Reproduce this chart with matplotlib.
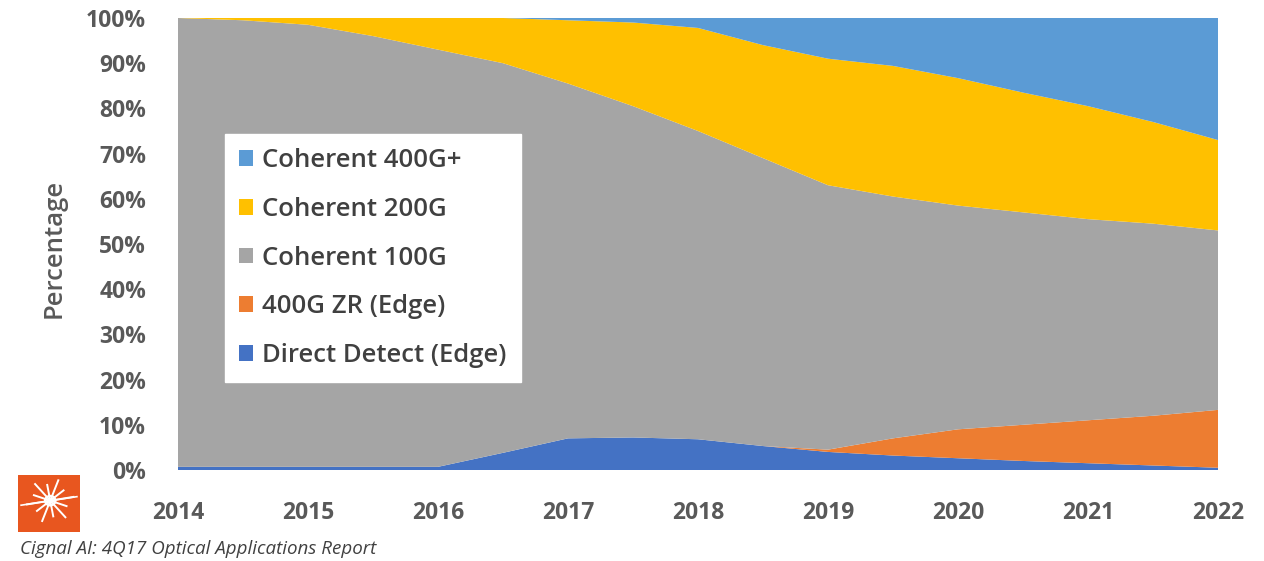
import matplotlib
matplotlib.use('Agg')
import numpy as np
from matplotlib import pyplot as plt
from matplotlib.patches import Rectangle, Circle

plt.rcParams['font.family'] = ['Open Sans', 'DejaVu Sans']

# half-year sample points, shares in percent
years = [2014, 2014.5, 2015, 2015.5, 2016, 2016.5, 2017, 2017.5, 2018,
         2018.5, 2019, 2019.5, 2020, 2020.5, 2021, 2021.5, 2022]
direct_detect = [0.7, 0.7, 0.7, 0.7, 0.7, 3.8, 7, 7.2, 6.8, 5.3, 4, 3.2, 2.6, 2, 1.5, 1, 0.5]
zr_400g = [0, 0, 0, 0, 0, 0, 0, 0, 0, 0, 0.5, 3.8, 6.4, 8, 9.5, 11, 12.8]
coh_100g = [99.3, 98.8, 97.8, 95.3, 92.3, 86.2, 78.5, 73.3, 68.2, 63.7, 58.5, 53.5, 49.5, 47, 44.5, 42.5, 39.7]
coh_200g = [0, 0.5, 1.5, 4, 7, 10, 14, 18.5, 22.8, 25, 28, 28.9, 28.2, 26.5, 25, 22.5, 20]
coh_400g = [0, 0, 0, 0, 0, 0, 0.5, 1, 2.2, 6, 9, 10.6, 13.3, 16.5, 19.5, 23, 27]

labels = ['Direct Detect (Edge)', '400G ZR (Edge)', 'Coherent 100G',
          'Coherent 200G', 'Coherent 400G+']
colors = ['#4472C4', '#ED7D31', '#A5A5A5', '#FFC000', '#5B9BD5']
tick_years = [2014, 2015, 2016, 2017, 2018, 2019, 2020, 2021, 2022]
pct_ticks = np.arange(0, 101, 10)

fig = plt.figure(figsize=(12.64, 5.61), dpi=100)
ax = fig.add_axes([178 / 1264, 91 / 561, 1040 / 1264, 452 / 561])

ax.stackplot(years, direct_detect, zr_400g, coh_100g, coh_200g, coh_400g,
             colors=colors, labels=labels, linewidth=0)
ax.set_xlim(2014, 2022)
ax.set_ylim(0, 100)
ax.set_xticks(tick_years)
ax.set_xticklabels([str(y) for y in tick_years])
ax.set_yticks(pct_ticks)
ax.set_yticklabels(['%d%%' % p for p in pct_ticks])
ax.tick_params(length=0, labelsize=16.5, labelcolor='#595959')
ax.tick_params(axis='y', pad=23)
ax.tick_params(axis='x', pad=22)
for lbl in ax.get_xticklabels() + ax.get_yticklabels():
    lbl.set_fontweight('bold')
for sp in ax.spines.values():
    sp.set_visible(False)
ax.set_ylabel('Percentage', fontsize=18.5, color='#595959', fontweight='semibold')
ax.yaxis.set_label_coords(-0.107, 0.49)

handles, names = ax.get_legend_handles_labels()
leg = ax.legend(handles[::-1], names[::-1], loc='upper left',
                bbox_to_anchor=(0.045, 0.743), borderaxespad=0,
                frameon=True, fancybox=False,
                edgecolor='white', framealpha=1.0, borderpad=0.55,
                handlelength=0.55, handleheight=0.55, handletextpad=0.35,
                labelspacing=0.92, prop={'size': 18.5, 'weight': 'semibold'})
for t in leg.get_texts():
    t.set_color('#404040')

# logo block
lax = fig.add_axes([18 / 1264, 29 / 561, 62 / 1264, 57 / 561])
lax.set_xlim(0, 1)
lax.set_ylim(0, 1)
lax.axis('off')
lax.add_patch(Rectangle((0, 0), 1, 1, color='#E8561F'))
cx, cy = 0.52, 0.55
for ang in np.arange(0, 360, 30):
    r = 0.38 if ang % 60 == 0 else 0.28
    a = np.radians(ang + 10)
    lax.plot([cx, cx + r * np.cos(a)], [cy, cy + r * np.sin(a)], color='white', lw=1.4)
lax.plot([0.05, 0.95], [0.47, 0.62], color='white', lw=1.2)
lax.add_patch(Circle((cx, cy), 0.09, color='white'))
lax.add_patch(Circle((cx, cy), 0.05, color='#E8561F'))

fig.text(20 / 1264, 1 - 549 / 561, 'Cignal AI: 4Q17 Optical Applications Report',
         fontsize=13.5, style='italic', color='#404040', va='center', ha='left')

fig.savefig('out.png', dpi=100)
